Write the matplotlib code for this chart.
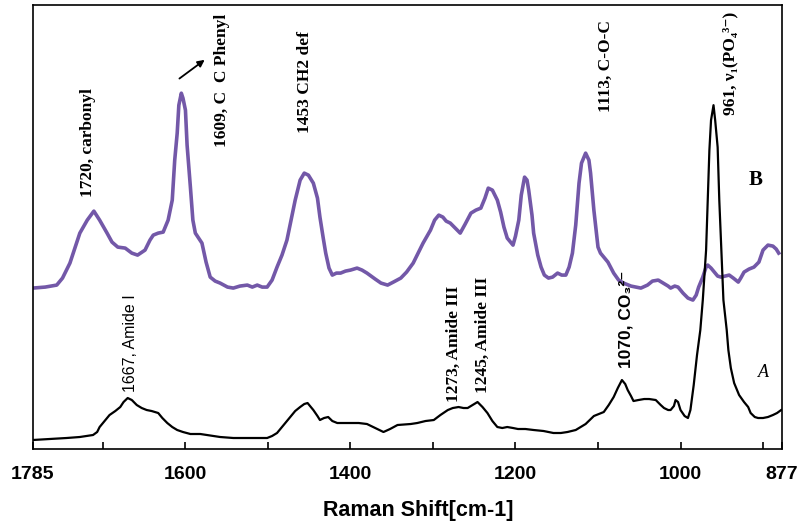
import matplotlib
matplotlib.use("Agg")
import matplotlib.pyplot as plt

# --- Spectrum B (purple, upper trace) ---
shift_b = [1785, 1770, 1756, 1749, 1740, 1734, 1728, 1719, 1711, 1704, 1695, 1689, 1682, 1673,
           1665, 1658, 1649, 1643, 1639, 1633, 1627, 1621, 1616, 1613, 1610, 1608, 1605, 1603,
           1600, 1598, 1594, 1591, 1588, 1580, 1575, 1570, 1564, 1558, 1549, 1542, 1534, 1525,
           1519, 1513, 1507, 1501, 1495, 1489, 1483, 1477, 1472, 1467, 1461, 1456, 1451, 1445,
           1440, 1437, 1433, 1430, 1426, 1422, 1417, 1412, 1406, 1400, 1392, 1386, 1380, 1370,
           1363, 1355, 1348, 1339, 1332, 1324, 1318, 1312, 1303, 1298, 1293, 1288, 1284, 1279,
           1273, 1267, 1261, 1254, 1248, 1242, 1237, 1233, 1228, 1222, 1218, 1214, 1210, 1203,
           1200, 1196, 1193, 1189, 1186, 1184, 1180, 1178, 1173, 1169, 1165, 1160, 1155, 1149,
           1144, 1139, 1135, 1131, 1127, 1123, 1120, 1115, 1111, 1109, 1105, 1100, 1097, 1093,
           1088, 1081, 1075, 1069, 1060, 1048, 1040, 1034, 1027, 1021, 1015, 1012, 1007, 1003,
           997, 991, 985, 981, 978, 973, 969, 967, 963, 959, 955, 951, 946, 941, 936, 930, 927,
           923, 917, 911, 905, 900, 894, 888, 884, 881]
int_b = [161, 162, 164, 171, 186, 201, 216, 229, 238, 229, 216, 207, 202, 201,
         196, 194, 199, 209, 214, 216, 217, 229, 249, 289, 316, 344, 356, 351,
         339, 304, 262, 229, 216, 206, 187, 172, 168, 166, 162, 161, 163, 164,
         162, 164, 162, 162, 169, 182, 194, 209, 229, 249, 269, 276, 274, 266,
         251, 232, 211, 196, 181, 174, 176, 176, 178, 179, 181, 179, 176, 170,
         166, 164, 167, 171, 177, 186, 196, 206, 219, 229, 234, 232, 228, 226,
         221, 216, 225, 236, 239, 241, 251, 261, 259, 249, 237, 222, 211, 204,
         213, 229, 254, 272, 269, 259, 234, 216, 194, 182, 174, 171, 172, 176,
         174, 174, 182, 196, 224, 266, 286, 296, 289, 276, 239, 202, 196, 192,
         187, 176, 169, 166, 163, 161, 164, 168, 169, 166, 163, 161, 163, 162,
         156, 151, 149, 154, 162, 172, 182, 184, 181, 177, 173, 172, 173, 174, 171, 167, 171,
         177, 180, 182, 187, 199, 204, 203, 200, 196]

# --- Spectrum A (black, lower trace) ---
shift_a = [1785, 1764, 1744, 1728, 1712, 1707, 1704, 1698, 1692, 1685, 1679, 1675, 1670, 1665,
           1659, 1653, 1647, 1641, 1633, 1628, 1622, 1616, 1610, 1603, 1594, 1582, 1574, 1558,
           1542, 1522, 1501, 1495, 1489, 1481, 1473, 1467, 1461, 1456, 1452, 1449, 1445, 1440,
           1437, 1432, 1427, 1422, 1416, 1409, 1400, 1390, 1380, 1370, 1360, 1352, 1343, 1327,
           1319, 1309, 1299, 1291, 1282, 1276, 1269, 1263, 1258, 1252, 1246, 1240, 1234, 1228,
           1222, 1216, 1210, 1203, 1197, 1188, 1178, 1166, 1154, 1145, 1137, 1127, 1121, 1115,
           1105, 1099, 1093, 1087, 1081, 1076, 1071, 1067, 1064, 1060, 1057, 1051, 1044, 1038,
           1030, 1024, 1020, 1015, 1012, 1008, 1006, 1003, 1000, 995, 991, 988, 984, 980, 976,
           973, 969, 967, 965, 963, 960, 958, 955, 953, 951, 948, 944, 942, 939, 935, 929, 923,
           918, 915, 910, 906, 900, 894, 888, 883, 878]
int_a = [9, 10, 11, 12, 14, 17, 22, 28, 34, 38, 42, 47, 51, 49,
         44, 41, 39, 38, 36, 31, 26, 22, 19, 17, 15, 15, 14, 12,
         11, 11, 11, 13, 16, 24, 32, 38, 42, 45, 46, 43, 39, 33,
         29, 31, 32, 28, 26, 26, 26, 26, 25, 21, 17, 20, 24, 25,
         26, 28, 29, 34, 39, 41, 42, 41, 41, 44, 47, 42, 36, 28,
         22, 21, 22, 21, 20, 20, 19, 18, 16, 16, 17, 19, 22, 25,
         33, 35, 37, 44, 52, 61, 69, 65, 59, 53, 48, 49, 50, 50,
         49, 44, 41, 39, 39, 43, 49, 47, 39, 33, 31, 39, 64, 94, 119,
         149, 199, 249, 299, 329, 344, 329, 302, 249, 209, 149, 119, 99, 81, 66, 54, 47,
         42, 36, 32, 31, 31, 32, 34, 36, 39]

# --- Peak annotations ---
labels_b = ["1720, carbonyl", "1609, C  C Phenyl", "1453 CH2 def", "1113, C-O-C",
            "961, \u03bd\u2081(PO\u2084\u00b3\u207b)"]
label_b_x = [1718, 1556, 1455, 1091, 939]
label_b_y = [252, 302, 316, 337, 334]

labels_a = ["1273, Amide III", "1245, Amide III"]
label_a_x = [1275, 1239]
label_a_y = [47, 56]

tick_pos = [1785, 1700, 1600, 1500, 1400, 1300, 1200, 1100, 1000, 900, 877]
tick_lab = ["1785", "", "1600", "", "1400", "", "1200", "", "1000", "", "877"]

# --- Plot setup ---
fig, ax = plt.subplots(figsize=(8, 5.23), dpi=100)
plt.subplots_adjust(left=0.041, right=0.9775, top=0.990, bottom=0.1415)

ax.plot(shift_b, int_b, color="#7358a8", lw=2.6, solid_joinstyle="round")
ax.plot(shift_a, int_a, color="black", lw=1.6)

ax.set_xlim(1785, 877)
ax.set_ylim(0, 444)
ax.set_yticks([])
ax.set_xticks(tick_pos)
ax.set_xticklabels(tick_lab, fontfamily="Liberation Sans", fontweight="bold", fontsize=14)
ax.tick_params(axis="x", direction="in", length=5, width=1.2, pad=12)
for sp in ax.spines.values():
    sp.set_linewidth(1.2)

ax.set_xlabel("Raman Shift[cm-1]", fontfamily="Liberation Sans", fontweight="bold", fontsize=15.5)
ax.xaxis.set_label_coords(0.515, -0.115)

serif = dict(family=["Liberation Serif", "DejaVu Serif"], fontweight="bold", fontsize=12.5,
             rotation=90, ha="center", va="bottom")
for txt, x, y in zip(labels_b, label_b_x, label_b_y):
    ax.text(x, y, txt, **serif)
for txt, x, y in zip(labels_a, label_a_x, label_a_y):
    ax.text(x, y, txt, **serif)

ax.text(1667, 57, "1667, Amide I", family="Liberation Sans", fontsize=11.5, rotation=90,
        ha="center", va="bottom")
ax.text(1066, 81, "1070, CO\u2083\u00b2\u207b", family=["Liberation Sans", "DejaVu Sans"],
        fontweight="bold", fontsize=12.5, rotation=90, ha="center", va="bottom")

ax.text(909, 269, "B", family="Liberation Serif", fontweight="bold", fontsize=15,
        ha="center", va="center")
ax.text(900, 77, "A", family="Liberation Serif", fontsize=13, style="italic",
        ha="center", va="center")

# --- Arrow pointing to the C=C label ---
ax.annotate("", xy=(1574, 391), xytext=(1610, 369),
            arrowprops=dict(arrowstyle="-|>", color="black", lw=1.3, mutation_scale=10))

fig.savefig("out.png", dpi=100)
